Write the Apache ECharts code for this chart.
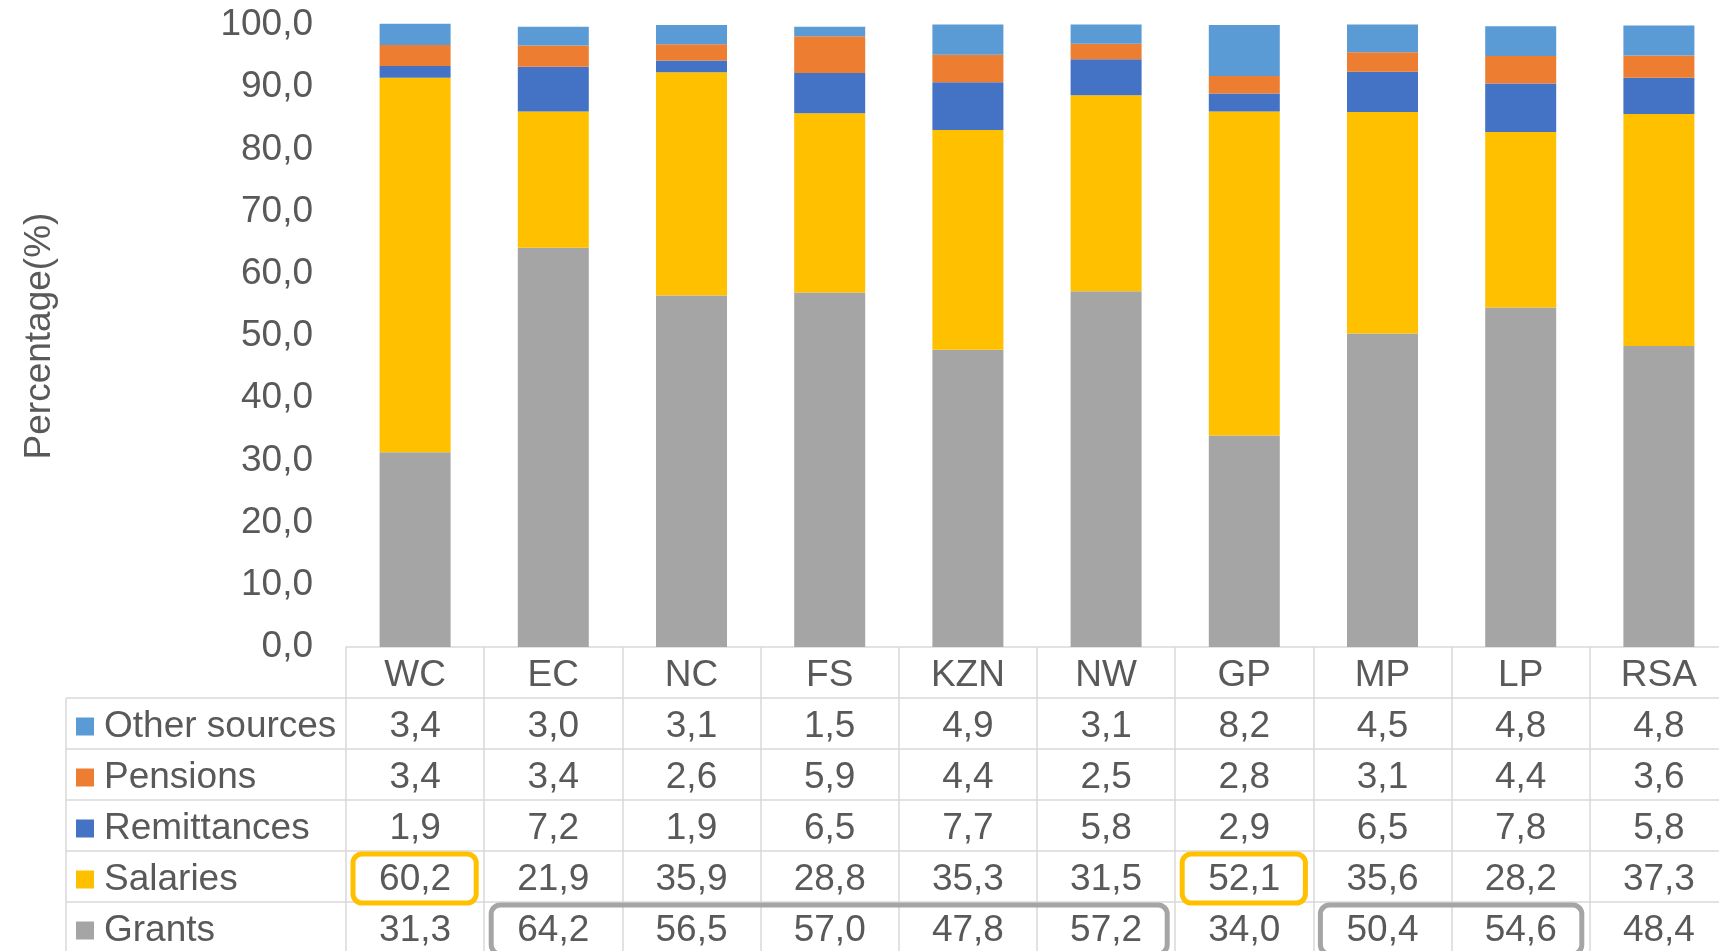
<!DOCTYPE html>
<html>
<head>
<meta charset="utf-8">
<style>
  html, body { margin: 0; padding: 0; background: #fff; }
  #chart { width: 1719px; height: 951px; }
</style>
<script src="https://cdn.jsdelivr.net/npm/echarts@6/dist/echarts.min.js"></script>
</head>
<body>
<div id="chart"></div>
<script>
// data
const provinces = ['WC', 'EC', 'NC', 'FS', 'KZN', 'NW', 'GP', 'MP', 'LP', 'RSA'];
const grants      = [31.3, 64.2, 56.5, 57.0, 47.8, 57.2, 34.0, 50.4, 54.6, 48.4];
const salaries    = [60.2, 21.9, 35.9, 28.8, 35.3, 31.5, 52.1, 35.6, 28.2, 37.3];
const remittances = [1.9, 7.2, 1.9, 6.5, 7.7, 5.8, 2.9, 6.5, 7.8, 5.8];
const pensions    = [3.4, 3.4, 2.6, 5.9, 4.4, 2.5, 2.8, 3.1, 4.4, 3.6];
const otherSources = [3.4, 3.0, 3.1, 1.5, 4.9, 3.1, 8.2, 4.5, 4.8, 4.8];
const yTicks = [0, 10, 20, 30, 40, 50, 60, 70, 80, 90, 100];

// stacking order bottom -> top
const seriesDefs = [
    { name: 'Grants', data: grants, color: '#A5A5A5' },
    { name: 'Salaries', data: salaries, color: '#FFC000' },
    { name: 'Remittances', data: remittances, color: '#4472C4' },
    { name: 'Pensions', data: pensions, color: '#ED7D31' },
    { name: 'Other sources', data: otherSources, color: '#5B9BD5' }
];
// table rows top -> bottom
const tableRows = seriesDefs.slice().reverse();

// highlighted cells: [row name, first category, last category, colour]
const highlights = [
    ['Salaries', 0, 0, '#FFC000'],
    ['Salaries', 6, 6, '#FFC000'],
    ['Grants', 1, 5, '#A5A5A5'],
    ['Grants', 7, 8, '#A5A5A5']
];

const FONT = '"Liberation Sans", Arial, sans-serif';
const FS = 37;
const TEXT = '#595959';
const LINE = '#D9D9D9';
const GRID_LEFT = 346;
const GRID_TOP = 25;
const GRID_H = 622;
const GRID_W = 1382;
const ROW_H = 51;
const TABLE_LEFT = 66;

function fmt(v) {
    return v.toFixed(1).replace('.', ',');
}

const chart = echarts.init(document.getElementById('chart'));

// x axes: the category header row + one row per series
const xAxes = [];
const rows = [{ labels: provinces }].concat(tableRows.map(r => ({ labels: r.data.map(fmt) })));
rows.forEach((row, k) => {
    xAxes.push({
        type: 'category',
        data: provinces,
        gridIndex: 0,
        position: 'bottom',
        offset: k * ROW_H,
        axisLine: { show: true, lineStyle: { color: LINE, width: 1.5 } },
        axisTick: { show: true, length: ROW_H, interval: 0, lineStyle: { color: LINE, width: 1.5 } },
        axisLabel: {
            interval: 0,
            margin: ROW_H / 2 + 3,
            verticalAlign: 'middle',
            color: TEXT,
            fontSize: FS,
            fontFamily: FONT,
            formatter: (value, index) => row.labels[index]
        }
    });
});

const series = seriesDefs.map((s, i) => ({
    name: s.name,
    type: 'bar',
    stack: 'total',
    xAxisIndex: 0,
    barWidth: 71,
    clip: false,
    itemStyle: { color: s.color },
    emphasis: { disabled: true },
    data: s.data
}));

const option = {
    animation: false,
    textStyle: { fontFamily: FONT },
    grid: { left: GRID_LEFT, top: GRID_TOP, width: GRID_W, height: GRID_H, outerBoundsMode: 'none', containLabel: false },
    legend: {
        orient: 'vertical',
        left: 76,
        top: GRID_TOP + GRID_H + ROW_H + 3,
        height: 320,
        padding: 0,
        itemGap: 0,
        itemWidth: 18,
        itemHeight: 18,
        icon: 'rect',
        selectedMode: false,
        data: tableRows.map(r => r.name),
        textStyle: { color: TEXT, fontSize: FS, fontFamily: FONT, lineHeight: ROW_H, padding: [0, 0, 0, 5] }
    },
    xAxis: xAxes,
    yAxis: {
        type: 'value',
        min: yTicks[0],
        max: yTicks[yTicks.length - 1],
        interval: yTicks[1] - yTicks[0],
        name: 'Percentage(%)',
        nameLocation: 'middle',
        nameRotate: 90,
        nameGap: 288,
        nameTextStyle: { color: TEXT, fontSize: FS, fontFamily: FONT },
        axisLine: { show: false },
        axisTick: { show: false },
        splitLine: { show: false },
        axisLabel: { color: TEXT, fontSize: FS, fontFamily: FONT, margin: 33, formatter: v => fmt(v) }
    },
    series: series
};

chart.setOption(option);

// left column of the data table + highlight boxes
function drawExtras() {
    const base = chart.convertToPixel({ yAxisIndex: 0 }, 0);
    const elements = [];
    for (let k = 1; k <= tableRows.length; k++) {
        const y = base + k * ROW_H;
        elements.push({
            type: 'line',
            shape: { x1: TABLE_LEFT, y1: y, x2: GRID_LEFT, y2: y },
            style: { stroke: LINE, lineWidth: 1.5 }
        });
    }
    elements.push({
        type: 'line',
        shape: { x1: TABLE_LEFT, y1: base + ROW_H, x2: TABLE_LEFT, y2: base + (tableRows.length + 1) * ROW_H },
        style: { stroke: LINE, lineWidth: 1.5 }
    });

    const colW = GRID_W / provinces.length;
    highlights.forEach(h => {
        const rowIdx = tableRows.findIndex(r => r.name === h[0]) + 1;
        const x1 = chart.convertToPixel({ xAxisIndex: 0 }, provinces[h[1]]) - colW / 2 + 7;
        const x2 = chart.convertToPixel({ xAxisIndex: 0 }, provinces[h[2]]) + colW / 2 - 8;
        const y1 = base + rowIdx * ROW_H + 3;
        elements.push({
            type: 'rect',
            shape: { x: x1, y: y1, width: x2 - x1, height: ROW_H - 2, r: 9 },
            style: { fill: 'none', stroke: h[3], lineWidth: 5 },
            z: 100
        });
    });
    chart.setOption({ graphic: elements });
}
drawExtras();

window.addEventListener('resize', function() {
    chart.resize();
});
</script>
</body>
</html>
